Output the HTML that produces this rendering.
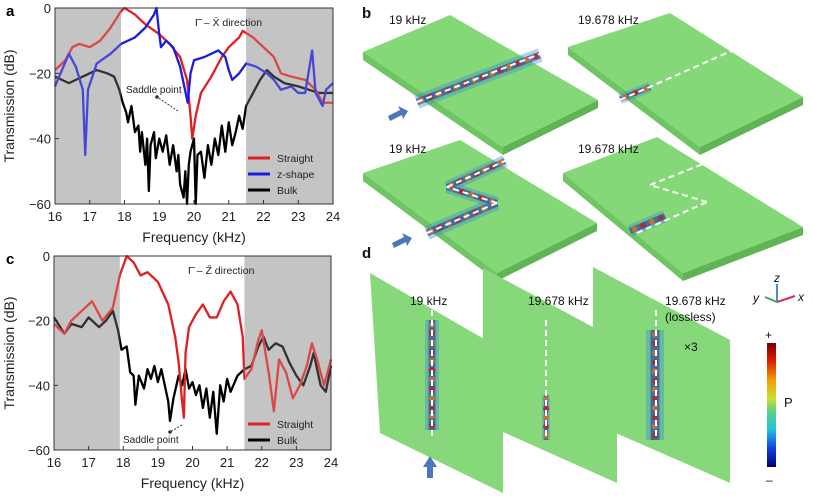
<!DOCTYPE html>
<html><head><meta charset="utf-8"><style>
body{margin:0;background:#fff;width:814px;height:498px;overflow:hidden}
svg{display:block;font-family:"Liberation Sans",Arial,sans-serif}
</style></head><body>
<svg id="fig" width="814" height="498" viewBox="0 0 814 498">
<g id="charts"></g>
<g id="right"></g>
</svg>
<script>
// ---- panel a data ----
const aStraightX=[16,16.3,16.5,16.7,17,17.3,17.6,17.9,18,18.3,18.6,19,19.3,19.6,19.8,19.9,19.95,20.05,20.2,20.5,20.8,21,21.3,21.4,21.7,22,22.3,22.5,22.8,23.2,23.5,23.7,24];
const aStraightY=[-19,-16,-12,-11,-12,-10,-6,-1,0,-2,-5,-8,-11,-15,-22,-33,-40,-33,-26,-21,-15,-12,-9,-7,-9,-12,-15,-20,-21,-22,-25,-29,-29];
const aZX=[16,16.2,16.4,16.6,16.8,16.87,16.95,17.2,17.6,17.9,18.3,18.6,18.85,18.92,19,19.05,19.2,19.4,19.6,19.78,19.82,19.9,20,20.3,20.7,20.9,21,21.1,21.3,21.5,21.8,22.1,22.3,22.5,22.8,23,23.2,23.4,23.5,23.7,23.8,24];
const aZY=[-24,-19,-14,-18,-25,-45,-25,-17,-14,-11,-9,-6,-2,0,-8,-12,-10,-12,-18,-27,-29,-20,-16,-15,-13,-15,-19,-22,-20,-17,-18,-20,-22,-25,-24,-26,-26,-13,-26,-30,-25,-23];
const aBulkX=[16,16.2,16.4,16.6,16.8,17,17.2,17.5,17.7,17.85,17.95,18.05,18.1,18.2,18.3,18.4,18.45,18.5,18.6,18.65,18.7,18.75,18.85,18.9,19,19.1,19.2,19.3,19.4,19.5,19.55,19.6,19.7,19.75,19.8,19.85,19.9,20,20.05,20.1,20.2,20.3,20.4,20.5,20.6,20.7,20.8,20.9,21,21.1,21.2,21.3,21.4,21.5,21.7,21.9,22.1,22.3,22.6,23,23.3,23.6,24];
const aBulkY=[-21,-22,-23,-22,-21,-20,-19,-20,-21,-25,-29,-32,-35,-30,-38,-36,-44,-38,-48,-40,-56,-42,-38,-46,-40,-44,-39,-48,-42,-50,-45,-54,-58,-50,-60,-48,-44,-40,-60,-45,-44,-52,-42,-48,-40,-45,-36,-44,-35,-42,-38,-33,-37,-30,-26,-22,-19,-21,-23,-24,-25,-26,-26];
// ---- panel c data ----
const cStraightX=[16,16.3,16.5,16.8,17,17.1,17.4,17.7,17.9,18.1,18.3,18.5,18.7,19,19.3,19.5,19.6,19.7,19.75,19.8,19.9,20.1,20.3,20.5,20.7,20.9,21.1,21.3,21.45,21.5,21.7,21.9,22,22.2,22.35,22.5,22.7,22.9,23.1,23.3,23.45,23.6,23.8,24];
const cStraightY=[-21,-24,-20,-17,-15,-14,-20,-16,-6,0,-2,-6,-5,-8,-15,-25,-33,-45,-50,-30,-22,-18,-15,-19,-19,-14,-11,-15,-25,-38,-35,-26,-23,-36,-48,-32,-36,-44,-40,-34,-27,-32,-40,-32];
const cBulkX=[16,16.3,16.5,16.8,17,17.3,17.5,17.7,17.85,17.95,18.1,18.2,18.3,18.35,18.45,18.6,18.7,18.8,18.9,19,19.1,19.3,19.35,19.45,19.6,19.7,19.8,19.9,20,20.1,20.2,20.3,20.4,20.5,20.6,20.7,20.8,20.9,21,21.1,21.3,21.5,21.7,21.9,22.05,22.2,22.4,22.6,22.8,23,23.2,23.4,23.5,23.7,23.85,24];
const cBulkY=[-19,-24,-21,-22,-19,-22,-20,-17,-23,-29,-28,-36,-37,-46,-37,-41,-35,-38,-34,-39,-35,-45,-51,-44,-37,-40,-35,-41,-39,-43,-40,-47,-41,-50,-42,-55,-40,-45,-38,-42,-37,-35,-34,-28,-25,-29,-27,-28,-33,-37,-40,-34,-30,-40,-42,-34];
const xTicks=[16,17,18,19,20,21,22,23,24];
const yTicks=[0,-20,-40,-60];
const grayBands=[[16,17.9],[21.5,24]];

const NS="http://www.w3.org/2000/svg";
function mk(tag,attrs,parent){const e=document.createElementNS(NS,tag);for(const k in attrs)e.setAttribute(k,attrs[k]);parent.appendChild(e);return e;}

function chart(cfg){
  const g=mk('g',{},document.getElementById('charts'));
  
  
  const X=v=>cfg.x0+(v-16)/8*(cfg.x1-cfg.x0);
  const Y=v=>cfg.y0+(v/-60)*(cfg.y1-cfg.y0);
  for(const b of grayBands){const r=mk('rect',{x:X(b[0]),y:cfg.y0,width:X(b[1])-X(b[0]),height:cfg.y1-cfg.y0,fill:'#c4c4c4'},g);
    
    }
  for(const s of cfg.series){
    const p=mk('polyline',{points:s.x.map((v,i)=>X(v)+','+Y(s.y[i])).join(' '),fill:'none',stroke:s.c,'stroke-width':2.3,'stroke-linejoin':'round'},g);
    
    
  }
  for(const b of grayBands){mk('rect',{x:X(b[0]),y:cfg.y0,width:X(b[1])-X(b[0]),height:cfg.y1-cfg.y0,fill:'rgba(196,196,196,0.25)'},g);}
  mk('rect',{x:cfg.x0,y:cfg.y0,width:cfg.x1-cfg.x0,height:cfg.y1-cfg.y0,fill:'none',stroke:'#333','stroke-width':1},g);
  for(const t of xTicks){mk('line',{x1:X(t),x2:X(t),y1:cfg.y1,y2:cfg.y1-4,stroke:'#333'},g);
    const tx=mk('text',{x:X(t),y:cfg.y1+17,'text-anchor':'middle','font-size':13,fill:'#222'},g);tx.textContent=t;
    
    }
  for(const t of yTicks){mk('line',{x1:cfg.x0,x2:cfg.x0+4,y1:Y(t),y2:Y(t),stroke:'#333'},g);
    const ty=mk('text',{x:cfg.x0-4,y:Y(t)+5,'text-anchor':'end','font-size':13,fill:'#222'},g);ty.textContent=t===0?'0':'\u2212'+(-t);
    
    }
  const xt=mk('text',{x:(cfg.x0+cfg.x1)/2,y:cfg.y1+38,'text-anchor':'middle','font-size':14,fill:'#222'},g);xt.textContent='Frequency (kHz)';
  
  
  const yc=(cfg.y0+cfg.y1)/2;
  const yt=mk('text',{x:14,y:yc,'text-anchor':'middle','font-size':14,fill:'#222',transform:`rotate(-90 14 ${yc})`},g);yt.textContent='Transmission (dB)';
  
  
  const pl=mk('text',{x:6,y:cfg.y0+8,'font-size':15,'font-weight':'bold'},g);pl.textContent=cfg.letter;
  
  
  const dt=mk('text',{x:cfg.dirX,y:cfg.y0+18,'font-size':10.5,fill:'#222'},g);dt.textContent=cfg.dir;
  
  
  cfg.legend.forEach((s,i)=>{const ly=cfg.legY+i*16;
    const ll=mk('line',{x1:cfg.legX,x2:cfg.legX+22,y1:ly,y2:ly,stroke:s.c,'stroke-width':3},g);
    
    
    const lt=mk('text',{x:cfg.legX+29,y:ly+4,'font-size':10.5,fill:'#222'},g);lt.textContent=s.n;
    
    });
  const sp=mk('text',{x:cfg.sp[0],y:cfg.sp[1],'font-size':10,fill:'#222'},g);sp.textContent='Saddle point';
  
  
  mk('line',{x1:cfg.ar[0],y1:cfg.ar[1],x2:cfg.ar[2],y2:cfg.ar[3],stroke:'#333','stroke-dasharray':'2,1.5','stroke-width':1},g);
  mk('circle',{cx:cfg.ar[2],cy:cfg.ar[3],r:1.8,fill:'#333'},g);
}
chart({name:'chart-a',letter:'a',x0:55,x1:333,y0:8,y1:204,dir:'\u0393\u0304 \u2013 X\u0304 direction',dirX:195,
  series:[{x:aBulkX,y:aBulkY,c:'#000',n:'bulk'},{x:aStraightX,y:aStraightY,c:'#e02020',n:'straight'},{x:aZX,y:aZY,c:'#1c1ce0',n:'z-shape'}],
  legend:[{c:'#e02020',n:'Straight'},{c:'#1c1ce0',n:'z-shape'},{c:'#000',n:'Bulk'}],legX:248,legY:158,sp:[126,93],ar:[178,111,157,97]});
chart({name:'chart-c',letter:'c',x0:54,x1:331,y0:256,y1:450,dir:'\u0393\u0304 \u2013 Z\u0304 direction',dirX:188,
  series:[{x:cBulkX,y:cBulkY,c:'#000',n:'bulk'},{x:cStraightX,y:cStraightY,c:'#e02020',n:'straight'}],
  legend:[{c:'#e02020',n:'Straight'},{c:'#000',n:'Bulk'}],legX:248,legY:424,sp:[123,443],ar:[182,425,170,432]});

// ---- right side simulation panels ----
const R=document.getElementById('right');
function poly(pts,fill,name,op){const p=mk('polygon',{points:pts.map(q=>q.join(',')).join(' '),fill:fill,opacity:op||1},R);
  
  return p;}
function txt(x,y,s,name,size){const t=mk('text',{x:x,y:y,'font-size':size||12,fill:'#111'},R);t.textContent=s;
  
  return t;}
const slabs=[[[363,52],[450,15],[598,100],[503,147]],[[568,47],[670,13],[803,97],[700,147]],[[363,173],[460,140],[597,223],[497,273]],[[563,173],[657,137],[803,227],[683,273]]];
slabs.forEach(s=>{poly([s[0],s[3],[s[3][0],s[3][1]+8],[s[0][0],s[0][1]+8]],'#6fc463','slab-edge');
  poly([s[3],s[2],[s[2][0],s[2][1]+8],[s[3][0],s[3][1]+8]],'#5fb455','slab-edge');
  poly(s,'#84d877','slab');});
const walls=[[[370,273],[503,350],[503,493],[380,433]],[[483,268],[617,340],[617,483],[483,423]],[[593,267],[730,340],[730,483],[593,423]]];
walls.forEach(s=>poly(s,'#86d87a','wall-panel'));
// field bands
function band(a,b,w,name){const dx=b[0]-a[0],dy=b[1]-a[1],L=Math.hypot(dx,dy),nx=-dy/L*w,ny=dx/L*w;
  poly([[a[0]+nx,a[1]+ny],[b[0]+nx,b[1]+ny],[b[0]-nx,b[1]-ny],[a[0]-nx,a[1]-ny]],'#3a8fd0',name,0.4);
  poly([[a[0]+nx/2,a[1]+ny/2],[b[0]+nx/2,b[1]+ny/2],[b[0]-nx/2,b[1]-ny/2],[a[0]-nx/2,a[1]-ny/2]],'#2030a0',name,0.55);
  const n=Math.floor(L/9);for(let i=0;i<n;i++){const t=(i+0.5)/n;mk('circle',{cx:a[0]+dx*t,cy:a[1]+dy*t,r:3,fill:i%2?'#c02020':'#e07020',opacity:0.8},R);}
}
band([417,102],[540,55],7,'field-b1');band([620,99],[650,87],5,'field-b2');
band([427,233],[497,203],7,'field-b3');band([497,203],[447,187],6,'field-b3');band([447,187],[505,161],6,'field-b3');
band([630,231],[665,216],6,'field-b4');
band([432,320],[432,430],7,'field-d1');band([546,395],[546,440],4,'field-d2');band([655,330],[655,440],9,'field-d3');
// dashed guides
[[[417,102],[545,52]],[[620,100],[745,45]],[[427,233],[497,203]],[[497,203],[447,187]],[[447,187],[507,160]],
 [[637,233],[707,202]],[[707,202],[650,185]],[[650,185],[713,160]],
 [[432,310],[432,440]],[[546,320],[546,440]],[[656,310],[656,440]]].forEach(l=>{
  const d=mk('line',{x1:l[0][0],y1:l[0][1],x2:l[1][0],y2:l[1][1],stroke:'#fff','stroke-width':2,'stroke-dasharray':'6,4'},R);
  
  });
// arrows
[[398,113],[402,240]].forEach(a=>{const p=mk('polygon',{points:`${a[0]-10},${a[1]+3} ${a[0]+2},${a[1]-3} ${a[0]},${a[1]-7} ${a[0]+10},${a[1]-2} ${a[0]+5},${a[1]+6} ${a[0]+4},${a[1]+2} ${a[0]-8},${a[1]+8}`,fill:'#4a78b8'},R);
  
  });
const ua=mk('polygon',{points:'430,456 437,467 433,467 433,478 427,478 427,467 423,467',fill:'#4a78b8'},R);


txt(362,18,'b','panel-label-b',15).setAttribute('font-weight','bold');
txt(362,258,'d','panel-label-d',15).setAttribute('font-weight','bold');
txt(389,24,'19 kHz','freq-label');txt(578,24,'19.678 kHz','freq-label');
txt(389,153,'19 kHz','freq-label');txt(578,153,'19.678 kHz','freq-label');
txt(410,305,'19 kHz','freq-label');txt(528,305,'19.678 kHz','freq-label');
txt(665,305,'19.678 kHz','freq-label');txt(665,321,'(lossless)','lossless-label');txt(684,351,'\u00d73','scale-label');
// axes triad
mk('line',{x1:777,y1:302,x2:777,y2:284,stroke:'#4a8fd0','stroke-width':2},R);
mk('line',{x1:777,y1:302,x2:795,y2:296,stroke:'#d03060','stroke-width':2},R);
mk('line',{x1:777,y1:302,x2:765,y2:297,stroke:'#40a060','stroke-width':2},R);
txt(774,282,'z','axis-z',12).setAttribute('font-style','italic');
txt(798,301,'x','axis-x',12).setAttribute('font-style','italic');
txt(753,302,'y','axis-y',12).setAttribute('font-style','italic');
// colorbar
const defs=mk('defs',{},R);const lg=mk('linearGradient',{id:'cb',x1:0,y1:0,x2:0,y2:1},defs);
[['0','#7a0000'],['0.15','#e02000'],['0.3','#f0a000'],['0.45','#c8e030'],['0.55','#60d080'],['0.7','#20c0e0'],['0.85','#1040e0'],['1','#000070']].forEach(s=>mk('stop',{offset:s[0],'stop-color':s[1]},lg));
const cb=mk('rect',{x:767,y:343,width:9,height:124,fill:'url(#cb)'},R);


txt(765,339,'+','colorbar-max',12);txt(766,484,'\u2013','colorbar-min',12);txt(784,407,'P','colorbar-title',13);
</script>
</body></html>
